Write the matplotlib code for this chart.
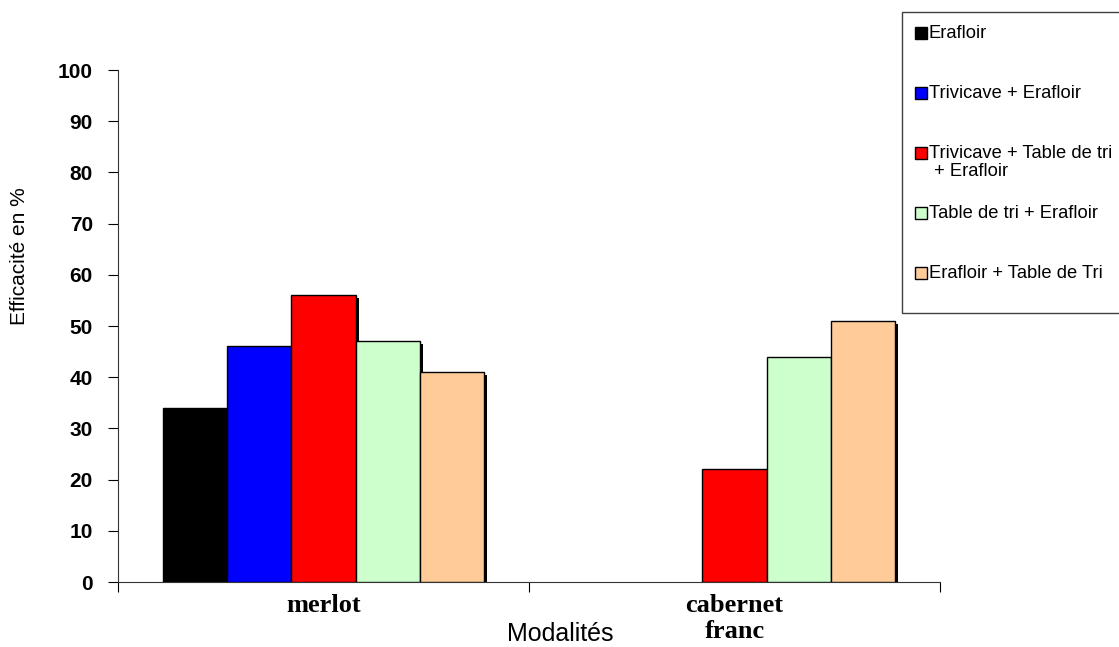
import numpy as np
import matplotlib
matplotlib.use('Agg')
import matplotlib.pyplot as plt
import matplotlib.patheffects as pe
from matplotlib.patches import Rectangle
from matplotlib.ticker import FixedLocator

# data
categories = ['merlot', 'cabernet\nfranc']
series = ['Erafloir', 'Trivicave + Erafloir', 'Trivicave + Table de tri\n + Erafloir',
          'Table de tri + Erafloir', 'Erafloir + Table de Tri']
colors = ['#000000', '#0000FF', '#FF0000', '#CCFFCC', '#FFCC99']
values = [
    [34, None],   # Erafloir
    [46, None],   # Trivicave + Erafloir
    [56, 22],     # Trivicave + Table de tri + Erafloir
    [47, 44],     # Table de tri + Erafloir
    [41, 51],     # Erafloir + Table de Tri
]
yticks = list(range(0, 101, 10))

W, H = 1119, 647
plt.rcParams['font.family'] = ['Liberation Sans', 'DejaVu Sans']

fig = plt.figure(figsize=(W / 100, H / 100), dpi=100)
ax = fig.add_axes([118 / W, 65 / H, 822 / W, 512 / H])

bw = 0.156
shadow = [pe.SimplePatchShadow(offset=(2.2, -2.2), shadow_rgbFace='black', alpha=1), pe.Normal()]
for i, (lab, col) in enumerate(zip(series, colors)):
    for j, v in enumerate(values[i]):
        if v is None:
            continue
        x = j + 0.5 + (i - 2) * bw
        b = ax.bar(x, v, width=bw, color=col, edgecolor='black', linewidth=1.0, zorder=3)
        for p in b.patches:
            p.set_path_effects(shadow)

ax.set_xlim(0, 2)
ax.set_ylim(0, 100)
ax.set_yticks(yticks)
ax.set_yticklabels([str(t) for t in yticks], fontsize=15, fontweight='bold')
ax.tick_params(axis='y', direction='out', length=7, width=0.8, pad=11)

ax.xaxis.set_major_locator(FixedLocator([0, 1, 2]))
ax.xaxis.set_minor_locator(FixedLocator([0.5, 1.5]))
ax.set_xticklabels([], minor=False)
ax.set_xticklabels(categories, minor=True, fontsize=19, fontweight='bold',
                   family='Liberation Serif', linespacing=1.15)
ax.tick_params(axis='x', which='major', direction='out', length=7, width=0.8)
ax.tick_params(axis='x', which='minor', length=0, pad=9)

for s in ['top', 'right']:
    ax.spines[s].set_visible(False)
for s in ['left', 'bottom']:
    ax.spines[s].set_linewidth(0.8)
    ax.spines[s].set_color('#333333')

fig.text(560 / W, 1 - 634 / H, 'Modalités', fontsize=18, ha='center', va='center')
fig.text(20 / W, 1 - 256 / H, 'Efficacité en %', fontsize=15, rotation=90,
         ha='center', va='center')

# legend box drawn the way the original lays it out
fig.patches.append(Rectangle((902 / W, 1 - 313 / H), (1130 - 902) / W, (313 - 12) / H,
                             transform=fig.transFigure, facecolor='white',
                             edgecolor='#404040', linewidth=1.0, clip_on=False))
for i, (lab, col) in enumerate(zip(series, colors)):
    yc = 33 + 60 * i
    fig.patches.append(Rectangle((915 / W, 1 - (yc + 6) / H), 12 / W, 12 / H,
                                 transform=fig.transFigure, facecolor=col,
                                 edgecolor='black', linewidth=1.0))
    fig.text(929 / W, 1 - (yc - 8) / H, lab, fontsize=13.2, ha='left', va='top',
             linespacing=1.1)

plt.savefig('out.png', dpi=100)
